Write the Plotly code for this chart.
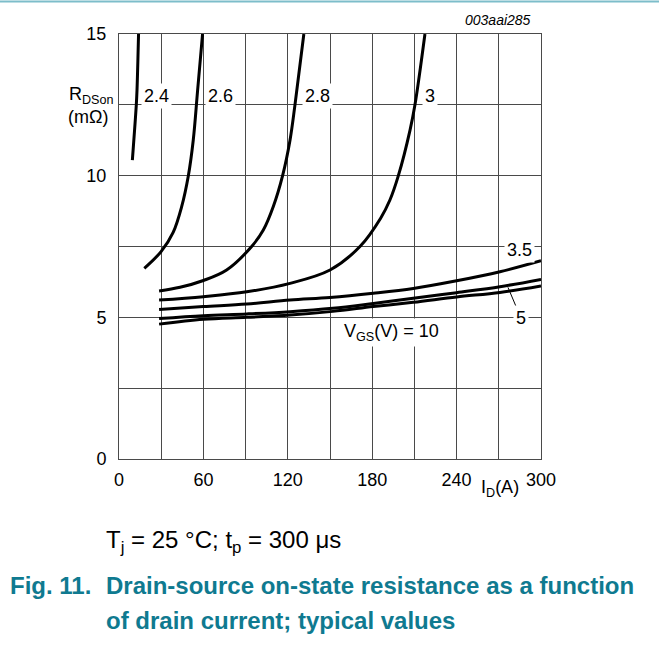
import plotly.graph_objects as go

# ---------------- data ----------------
x_ticks = [0, 60, 120, 180, 240, 300]
y_ticks = [0, 5, 10, 15]

vgs_24_x = [9.5, 12.3, 12.8, 13.9]
vgs_24_y = [10.55, 12.5, 13.02, 15.0]

vgs_26_x = [18.0, 29.9, 38.5, 44.5, 49.3, 52.8, 55.9, 59.4]
vgs_26_y = [6.73, 7.32, 8.0, 8.9, 10.0, 11.26, 13.02, 15.0]

vgs_28_x = [28.5, 43.4, 60.0, 76.5, 94.3, 102.6, 109.7, 116.3, 121.6, 125.1, 131.4]
vgs_28_y = [5.93, 6.06, 6.30, 6.67, 7.5, 8.08, 8.91, 10.0, 11.26, 12.5, 15.0]

vgs_3_x = [28.5, 60.0, 90.8, 121.6, 150.0, 171.3, 186.0, 192.6, 198.6, 206.9, 210.4, 217.5]
vgs_3_y = [5.61, 5.73, 5.90, 6.20, 6.67, 7.5, 8.5, 9.14, 10.0, 11.61, 12.5, 15.0]

vgs_35_x = [28.5, 60.0, 90.8, 121.6, 150.0, 180.8, 209.2, 240.0, 270.8, 300.0]
vgs_35_y = [5.28, 5.38, 5.47, 5.61, 5.70, 5.85, 6.02, 6.29, 6.61, 7.00]

vgs_5_x = [28.5, 60.0, 90.8, 121.6, 152.0, 180.8, 209.2, 240.0, 270.8, 300.0]
vgs_5_y = [4.96, 5.06, 5.12, 5.20, 5.32, 5.49, 5.67, 5.87, 6.08, 6.34]

vgs_10_x = [28.5, 60.0, 90.8, 121.6, 152.0, 180.8, 209.2, 240.0, 270.8, 300.0]
vgs_10_y = [4.76, 4.93, 5.00, 5.08, 5.21, 5.38, 5.53, 5.72, 5.88, 6.11]

series = [
    ("2.4", vgs_24_x, vgs_24_y),
    ("2.6", vgs_26_x, vgs_26_y),
    ("2.8", vgs_28_x, vgs_28_y),
    ("3", vgs_3_x, vgs_3_y),
    ("3.5", vgs_35_x, vgs_35_y),
    ("5", vgs_5_x, vgs_5_y),
    ("10", vgs_10_x, vgs_10_y),
]

# curve labels: (text, x, y)
curve_labels = [
    ("2.4", 26.3, 12.81),
    ("2.6", 71.8, 12.81),
    ("2.8", 140.8, 12.81),
    ("3", 221.1, 12.81),
    ("3.5", 284.4, 7.38),
    ("5", 285.8, 4.99),
    ("V<sub>GS</sub>(V) = 10", 193.4, 4.45),
]

FONT = "Liberation Sans, Arial, sans-serif"
GRID = "#4a4a4a"
TEAL = "#0f7a90"

fig = go.Figure()
for name, xs, ys in series:
    fig.add_trace(go.Scatter(
        x=xs, y=ys, mode="lines", name=name,
        line=dict(color="black", width=3, shape="spline", smoothing=1.0),
        showlegend=False, hoverinfo="skip",
    ))

for text, x, y in curve_labels:
    fig.add_annotation(
        x=x, y=y, xref="x", yref="y", text=text, showarrow=False,
        xanchor="center", yanchor="middle",
        font=dict(family=FONT, size=18, color="black"),
        bgcolor="white", borderpad=2,
    )

# leader line from "5" label to the 5 V curve
fig.add_shape(type="line", xref="x", yref="y",
              x0=276.5, y0=6.06, x1=283.3, y1=5.26,
              line=dict(color="black", width=1))

W, H = 659, 668
L, R, T, B = 119, 541, 34, 459
pw, ph = R - L, B - T


def px(xp):
    return (xp - L) / pw


def py(yp):
    return (B - yp) / ph


def note(text, xp, yp, size, color="black", anchor="center"):
    fig.add_annotation(x=px(xp), y=py(yp), xref="paper", yref="paper",
                       xanchor=anchor, yanchor="middle", text=text,
                       showarrow=False,
                       font=dict(family=FONT, size=size, color=color))


note("R<sub>DSon</sub>", 91, 95, 18)
note("(mΩ)", 88, 117, 18)
note("I<sub>D</sub>(A)", 500, 488, 18)
note("<i>003aai285</i>", 498, 20, 14)
note("T<sub>j</sub> = 25 °C; t<sub>p</sub> = 300 μs", 104, 541, 24, anchor="left")
note("<b>Fig. 11.</b>", 8, 585, 24, TEAL, anchor="left")
note("<b>Drain-source on-state resistance as a function</b>", 104, 585, 24, TEAL, anchor="left")
note("<b>of drain current; typical values</b>", 104, 620, 24, TEAL, anchor="left")

# page decoration line at the top
fig.add_shape(type="line", xref="paper", yref="paper",
              x0=px(0), x1=px(W), y0=py(1.5), y1=py(1.5),
              line=dict(color="#7dbdca", width=2))

fig.update_layout(
    width=W, height=H,
    margin=dict(l=L, r=W - R, t=T, b=H - B, pad=0),
    paper_bgcolor="white", plot_bgcolor="white",
    font=dict(family=FONT, size=18, color="black"),
    xaxis=dict(
        range=[0, 300], tickvals=x_ticks, ticktext=[str(v) for v in x_ticks],
        showgrid=True, gridcolor=GRID, gridwidth=1,
        minor=dict(tickvals=[30, 90, 150, 210, 270], showgrid=True,
                   gridcolor=GRID, gridwidth=1),
        showline=True, linecolor=GRID, linewidth=1, mirror=True,
        zeroline=False, ticks="", ticklabelstandoff=4,
        tickfont=dict(family=FONT, size=18, color="black"),
    ),
    yaxis=dict(
        range=[0, 15], tickvals=y_ticks, ticktext=[str(v) for v in y_ticks],
        showgrid=True, gridcolor=GRID, gridwidth=1,
        minor=dict(tickvals=[2.5, 7.5, 12.5], showgrid=True,
                   gridcolor=GRID, gridwidth=1),
        showline=True, linecolor=GRID, linewidth=1, mirror=True,
        zeroline=False, ticks="", ticklabelstandoff=8,
        tickfont=dict(family=FONT, size=18, color="black"),
    ),
)

fig.write_html(
    "out.html",
    config={"displayModeBar": False},
    post_script="document.body.style.margin='0';document.body.style.overflow='hidden';",
)
